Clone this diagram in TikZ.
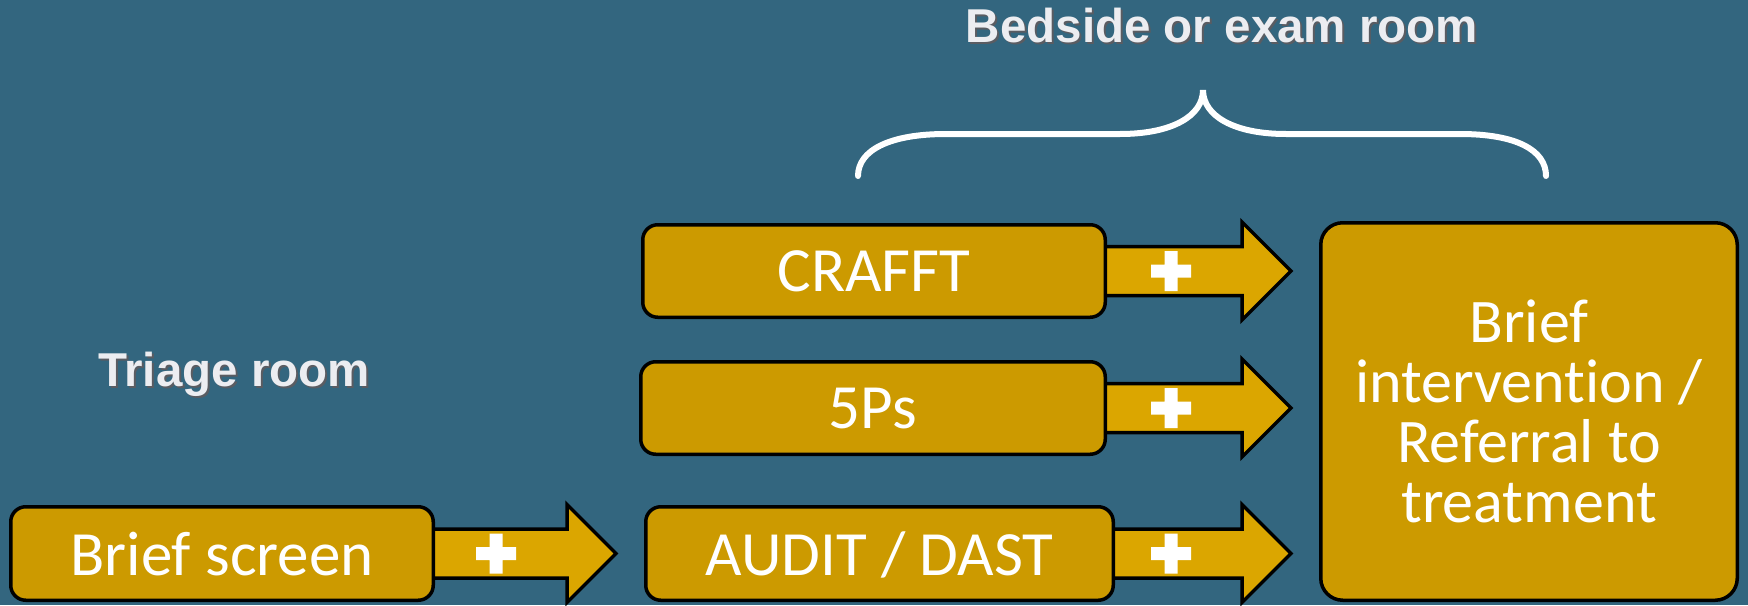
\documentclass[tikz,border=0pt]{standalone}
\usepackage{fontspec}
\setmainfont{Carlito}[Ligatures=NoCommon]
\newfontfamily\headfont{Liberation Sans}
\usetikzlibrary{calc}

\definecolor{slate}{RGB}{51,102,127}
\definecolor{boxgold}{RGB}{204,154,0}
\definecolor{arrowgold}{RGB}{219,166,0}
\definecolor{headtext}{RGB}{236,237,241}
\definecolor{headshadow}{RGB}{90,92,98}

\pgfdeclarelayer{back}
\pgfdeclarelayer{mid}
\pgfsetlayers{back,mid,main}

\tikzset{
  stepbox/.style={draw=black, fill=boxgold, line width=3.5pt, rounded corners=15pt,
    text=white, font=\fontsize{63}{60}\selectfont, text depth=0pt, inner sep=0pt},
  bigbox/.style={stepbox, rounded corners=22pt, align=center,
    font=\fontsize{62}{60}\selectfont, text depth=},
  roomlabel/.style={text=headtext, font=\headfont\bfseries\fontsize{47.5}{50}\selectfont,
    anchor=base, inner sep=0pt},
  roomshadow/.style={roomlabel, text=headshadow},
  blockarrow/.style={draw=black, fill=arrowgold, line width=3.5pt, line join=miter,
    to path={let \p1=(\tikztostart), \p2=(\tikztotarget) in
      (\x1-8pt,\y1+24.5pt) -- (\x2-49pt,\y1+24.5pt) -- (\x2-49pt,\y1+49pt)
      -- (\x2,\y1) -- (\x2-49pt,\y1-49pt) -- (\x2-49pt,\y1-24.5pt)
      -- (\x1-8pt,\y1-24.5pt) -- cycle}},
  plussign/.pic={\fill[white] (-20pt,-6.5pt) rectangle (20pt,6.5pt)
    (-6.5pt,-20pt) rectangle (6.5pt,20pt);},
  bracket/.style={draw=white, line width=6pt, line cap=round}
}

\begin{document}
\begin{tikzpicture}[x=1pt,y=-1pt]
\useasboundingbox (0,0) rectangle (1748,605);
\begin{pgfonlayer}{back}
  \fill[slate] (0,0) rectangle (1748,605);
\end{pgfonlayer}

% screening steps
\node[stepbox, minimum width=422.5pt, minimum height=93.5pt] (brief) at (222,553.5) {Brief screen};
\node[stepbox, minimum width=462.5pt, minimum height=92.5pt] (crafft) at (874,271) {CRAFFT};
\node[stepbox, minimum width=464.5pt, minimum height=92.5pt] (fiveps) at (873,408) {5Ps};
\node[stepbox, minimum width=467.5pt, minimum height=93.5pt] (audit) at (879.5,553.5) {AUDIT / DAST};
\node[bigbox, minimum width=416.5pt, minimum height=377.5pt] (birt) at (1529,411.5)
  {Brief\\intervention /\\Referral to\\treatment};

% arrow tips stop short of the next box
\coordinate (tipB) at ($(audit.west |- brief.east)+(-28pt,0)$);
\coordinate (tipC) at ($(birt.west |- crafft.east)+(-28pt,0)$);
\coordinate (tipF) at ($(birt.west |- fiveps.east)+(-28pt,0)$);
\coordinate (tipA) at ($(birt.west |- audit.east)+(-28pt,0)$);

\begin{pgfonlayer}{mid}
  \draw[blockarrow] (brief.east) to (tipB);
  \draw[blockarrow] (crafft.east) to (tipC);
  \draw[blockarrow] (fiveps.east) to (tipF);
  \draw[blockarrow] (audit.east) to (tipA);
\end{pgfonlayer}

\pic at ($(tipB)+(-120pt,0)$) {plussign};
\pic at ($(tipC)+(-120pt,0)$) {plussign};
\pic at ($(tipF)+(-120pt,0)$) {plussign};
\pic at ($(tipA)+(-120pt,0)$) {plussign};

% room labels with a soft drop shadow
\node[roomshadow] (triageshadow) at (236,388) {Triage room};
\node[roomlabel] (triage) at (234,386) {Triage room};
\node[roomshadow] (bedsideshadow) at (1224,44) {Bedside or exam room};
\node[roomlabel] (bedside) at (1222,42) {Bedside or exam room};

% curly bracket over the bedside steps
\draw[bracket] (858,176) .. controls (858,150) and (890,134) .. (946,134)
  -- (1120,134) .. controls (1172,134) and (1203,116) .. (1203,90)
  .. controls (1203,116) and (1234,134) .. (1286,134)
  -- (1460,134) .. controls (1516,134) and (1546,150) .. (1546,176);
\end{tikzpicture}
\end{document}
